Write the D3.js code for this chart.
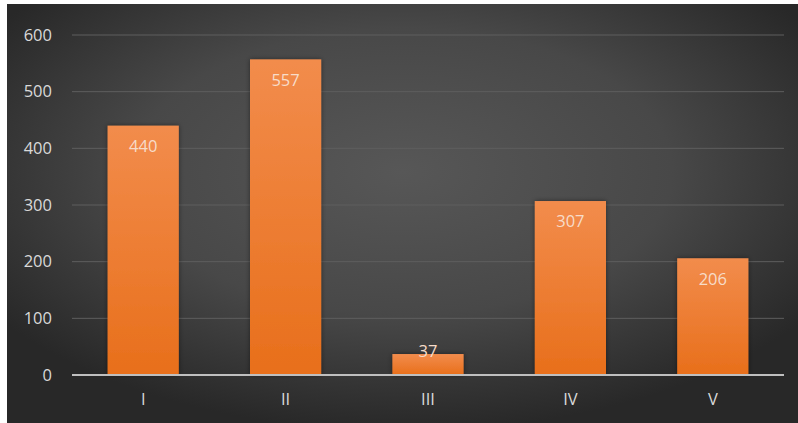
<!DOCTYPE html>
<html>
<head>
<meta charset="utf-8">
<script src="https://cdn.jsdelivr.net/npm/d3@7"></script>
<style>
  html, body { margin: 0; padding: 0; background: #ffffff; }
  svg { display: block; }
</style>
</head>
<body>
<svg id="chart" width="798" height="423"></svg>
<script>
const categories = ["I", "II", "III", "IV", "V"];
const values = [440, 557, 37, 307, 206];
const yTicks = [0, 100, 200, 300, 400, 500, 600];

const W = 798, H = 423;
const panel = { x: 7, y: 4, w: W - 7, h: H - 4 };
const margin = { left: 72, right: 14, top: 35, bottom: 48 };

const svg = d3.select("#chart");
const defs = svg.append("defs");

const bg = defs.append("radialGradient").attr("id", "bg")
  .attr("cx", "50%").attr("cy", "40%").attr("r", "62%");
bg.append("stop").attr("offset", "0%").attr("stop-color", "#575757");
bg.append("stop").attr("offset", "55%").attr("stop-color", "#484848");
bg.append("stop").attr("offset", "100%").attr("stop-color", "#282828");

const barGrad = defs.append("linearGradient").attr("id", "barGrad")
  .attr("x1", 0).attr("y1", 0).attr("x2", 0).attr("y2", 1);
barGrad.append("stop").attr("offset", "0%").attr("stop-color", "#f28c4c");
barGrad.append("stop").attr("offset", "100%").attr("stop-color", "#e86f1b");

const shadow = defs.append("filter").attr("id", "shadow")
  .attr("x", "-20%").attr("y", "-20%").attr("width", "140%").attr("height", "140%");
shadow.append("feDropShadow").attr("dx", 0).attr("dy", 0)
  .attr("stdDeviation", 2.5).attr("flood-color", "#000").attr("flood-opacity", 0.45);

svg.append("rect")
  .attr("x", panel.x).attr("y", panel.y)
  .attr("width", panel.w).attr("height", panel.h)
  .attr("fill", "url(#bg)");

const x = d3.scaleBand()
  .domain(categories)
  .range([margin.left, W - margin.right])
  .paddingInner(0.5)
  .paddingOuter(0.25);

const y = d3.scaleLinear()
  .domain([0, 600])
  .range([H - margin.bottom, margin.top]);

const font = "'Open Sans', 'Noto Sans', sans-serif";

// horizontal gridlines
svg.append("g")
  .selectAll("line")
  .data(yTicks.filter(d => d > 0))
  .join("line")
  .attr("x1", margin.left).attr("x2", W - margin.right)
  .attr("y1", d => y(d)).attr("y2", d => y(d))
  .attr("stroke", "#5e5e5e").attr("stroke-width", 1);

// y-axis labels
const yAxis = d3.axisLeft(y).tickValues(yTicks).tickSize(0).tickPadding(0);
const gy = svg.append("g").attr("transform", `translate(52,0)`).call(yAxis);
gy.select(".domain").remove();
gy.selectAll("text")
  .attr("fill", "#d9d9d9")
  .style("font-family", font)
  .style("font-size", "16.5px");

// bars
svg.append("g")
  .selectAll("rect")
  .data(values)
  .join("rect")
  .attr("x", (d, i) => x(categories[i]))
  .attr("y", d => y(d))
  .attr("width", x.bandwidth())
  .attr("height", d => y(0) - y(d))
  .attr("fill", "url(#barGrad)")
  .attr("filter", "url(#shadow)");

// x axis baseline and labels
const xAxis = d3.axisBottom(x).tickSize(0).tickPadding(18);
const gx = svg.append("g").attr("transform", `translate(0,${y(0)})`).call(xAxis);
gx.select(".domain")
  .attr("stroke", "#bfbfbf").attr("stroke-width", 2)
  .attr("d", `M${margin.left},0H${W - margin.right}`);
gx.selectAll("text")
  .attr("fill", "#d9d9d9")
  .style("font-family", font)
  .style("font-size", "16.5px");

// value labels at the inside end of each bar
svg.append("g")
  .selectAll("text")
  .data(values)
  .join("text")
  .attr("x", (d, i) => x(categories[i]) + x.bandwidth() / 2)
  .attr("y", d => Math.min(y(d) + 22, y(0) - 22))
  .attr("text-anchor", "middle")
  .attr("dominant-baseline", "middle")
  .attr("fill", "#f7dcc9")
  .style("font-family", font)
  .style("font-size", "16.5px")
  .text(d => d);
</script>
</body>
</html>
